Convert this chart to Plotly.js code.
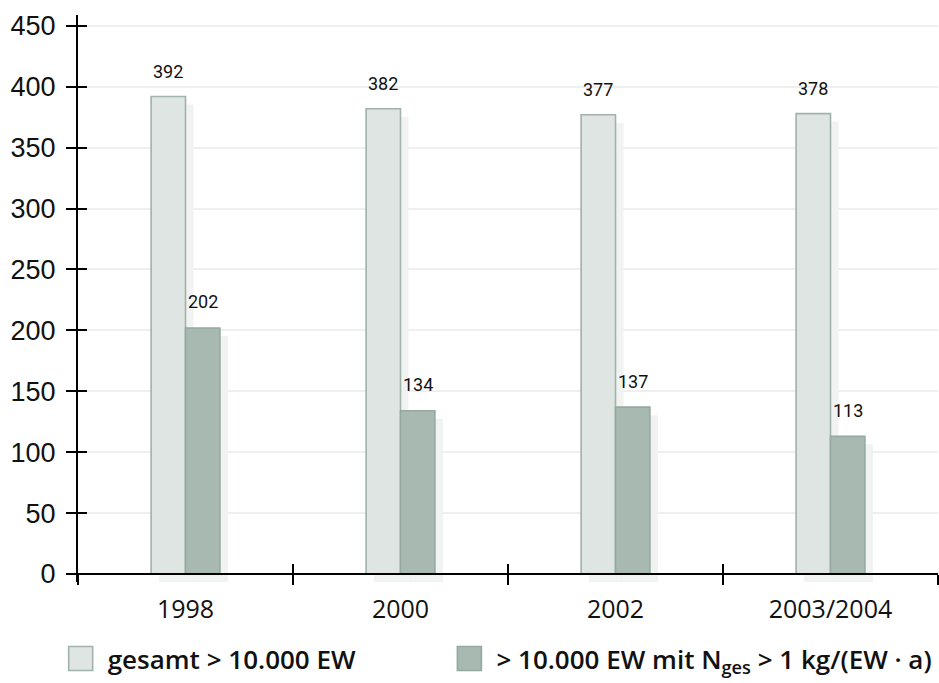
<!DOCTYPE html>
<html>
<head>
<meta charset="utf-8">
<script src="https://cdn.plot.ly/plotly-3.0.1.min.js"></script>
<style>
  html, body { margin: 0; padding: 0; background: #ffffff; overflow: hidden; }
  #chart { width: 939px; height: 683px; }
</style>
</head>
<body>
<div id="chart"></div>
<script>
// Kläranlagen-Zählung je Erhebungsjahr
const years = ['1998', '2000', '2002', '2003/2004'];
const totalPlants = [392, 382, 377, 378];          // gesamt > 10.000 EW
const highLoadPlants = [202, 134, 137, 113];      // > 10.000 EW mit Nges > 1 kg/(EW·a)
const nameTotal = 'gesamt &gt; 10.000 EW';
const nameHigh = '&gt; 10.000 EW mit N<sub>ges</sub> &gt; 1 kg/(EW · a)';
const yTicks = [0, 50, 100, 150, 200, 250, 300, 350, 400, 450];

// geometry helpers (plot area is 860 x 567 px)
const plotW = 860, plotH = 567;
const yMin = -6.57, yMax = 458.93;
const pxPerUnitY = plotH / (yMax - yMin);
const pxPerCat = plotW / 4;
const barW = 0.16;
const shadowDx = 8 / pxPerCat;     // drop shadow offset, right
const shadowDy = 8 / pxPerUnitY;   // drop shadow offset, down

const lightFill = '#dfe5e3', lightLine = '#a0b2aa';
const darkFill = '#a8b9b2', darkLine = '#95a9a0';
const shadowCol = '#f1f2f2';

// shadows live on the base subplot (x, y), the bars on the overlay (x2, y2)
function shadowTrace(vals, off) {
  return {
    type: 'bar', x: years, y: vals, base: vals.map(() => -shadowDy),
    offset: off + shadowDx, width: barW,
    xaxis: 'x', yaxis: 'y',
    marker: { color: shadowCol, line: { width: 0 } },
    showlegend: false, hoverinfo: 'skip'
  };
}

const traces = [
  shadowTrace(totalPlants, -barW),
  shadowTrace(highLoadPlants, 0),
  {
    type: 'bar', name: nameTotal, x: years, y: totalPlants,
    offset: -barW, width: barW, xaxis: 'x2', yaxis: 'y2',
    marker: { color: lightFill, line: { color: lightLine, width: 1.6 } },
    legend: 'legend'
  },
  {
    type: 'bar', name: nameHigh, x: years, y: highLoadPlants,
    offset: 0, width: barW, xaxis: 'x2', yaxis: 'y2',
    marker: { color: darkFill, line: { color: darkLine, width: 1.6 } },
    legend: 'legend2'
  }
];

// value labels above each bar
const labelFont = { family: 'Roboto, Arial, sans-serif', size: 18, color: '#111' };
const annotations = [];
years.forEach((yr, i) => {
  annotations.push({ xref: 'x', yref: 'y', x: i, y: totalPlants[i], text: String(totalPlants[i]),
    showarrow: false, xshift: -pxPerCat * barW / 2, yshift: 25, yanchor: 'middle', font: labelFont });
  annotations.push({ xref: 'x', yref: 'y', x: i, y: highLoadPlants[i], text: String(highLoadPlants[i]),
    showarrow: false, xshift: pxPerCat * barW / 2, yshift: 26, yanchor: 'middle', font: labelFont });
});

const zeroPos = (0 - yMin) / (yMax - yMin);
const tickFontY = { family: 'Liberation Sans, Arial, sans-serif', size: 27, color: '#111' };
const tickFontX = { family: 'Open Sans, sans-serif', size: 25, color: '#111' };
const legendFont = { family: 'Open Sans, sans-serif', size: 26, color: '#111', weight: 600 };

const axisLine = { showline: true, linecolor: '#000', linewidth: 2 };
const tickStyle = { tickwidth: 2, tickcolor: '#000' };
const legendShift = 14 / plotW;

const layout = {
  width: 939, height: 683,
  margin: { l: 78, r: 1, t: 15, b: 101, autoexpand: false },
  paper_bgcolor: '#ffffff', plot_bgcolor: '#ffffff',
  barmode: 'overlay',
  showlegend: true,
  xaxis: Object.assign({
    type: 'category', range: [-0.5, 3.5], fixedrange: true,
    anchor: 'free', position: zeroPos,
    tickson: 'boundaries', ticks: 'outside', ticklen: 10,
    tickfont: tickFontX, ticklabelstandoff: 13,
    showgrid: false, zeroline: false
  }, axisLine, tickStyle),
  xaxis2: Object.assign({
    type: 'category', range: [-0.5, 3.5], fixedrange: true, overlaying: 'x',
    anchor: 'free', position: zeroPos,
    tickson: 'boundaries', ticks: 'inside', ticklen: 10,
    showticklabels: false, showgrid: false, showline: false, zeroline: false
  }, tickStyle),
  yaxis: Object.assign({
    range: [yMin, yMax], fixedrange: true,
    tickvals: yTicks, ticktext: yTicks.map(String),
    ticks: 'outside', ticklen: 10,
    tickfont: tickFontY, ticklabelstandoff: 5,
    showgrid: true, gridcolor: '#efefef', gridwidth: 2,
    zeroline: false
  }, axisLine, tickStyle),
  yaxis2: Object.assign({
    range: [yMin, yMax], fixedrange: true, overlaying: 'y', anchor: 'x2', side: 'left',
    tickvals: yTicks, ticks: 'inside', ticklen: 9,
    showticklabels: false, showgrid: false, showline: false, zeroline: false
  }, tickStyle),
  legend: {
    orientation: 'h', x: -0.012 - legendShift, xanchor: 'left', y: -0.135, yanchor: 'middle',
    itemwidth: 44,
    font: legendFont, bgcolor: 'rgba(0,0,0,0)', itemclick: false, itemdoubleclick: false
  },
  legend2: {
    orientation: 'h', x: 0.44 - legendShift, xanchor: 'left', y: -0.135, yanchor: 'middle',
    itemwidth: 44,
    font: legendFont, bgcolor: 'rgba(0,0,0,0)', itemclick: false, itemdoubleclick: false
  },
  annotations: annotations
};

Plotly.newPlot('chart', traces, layout, { staticPlot: true, displayModeBar: false }).then(gd => {
  // larger square swatches in both legends
  gd.querySelectorAll('.legendpoints path').forEach(p => {
    p.setAttribute('d', 'M12,12H-12V-12H12Z');
  });
});
</script>
</body>
</html>
